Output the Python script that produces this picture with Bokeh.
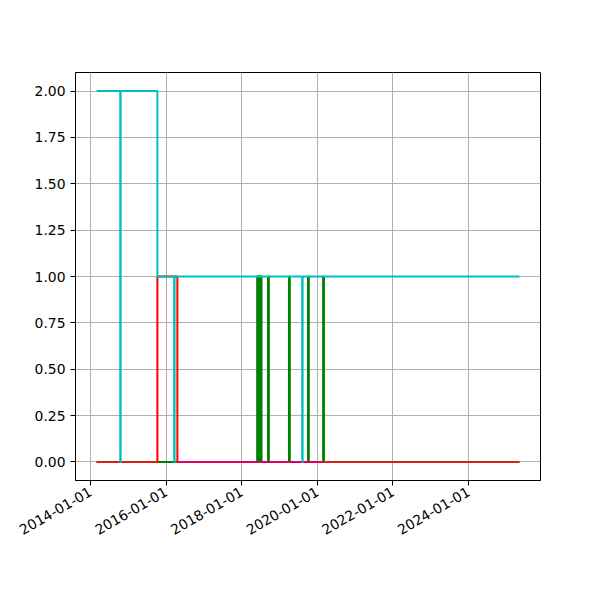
from math import pi
import pandas as pd
from bokeh.plotting import figure
from bokeh.models import Range1d, FixedTicker, DatetimeTickFormatter, NumeralTickFormatter
from bokeh.embed import file_html
from bokeh.resources import INLINE

# ---- data ----
start_date = "2014-03-01"
end_date = "2025-05-06"

green_dates = [start_date,
               "2018-05-30", "2018-06-03", "2018-06-05", "2018-06-09", "2018-06-11",
               "2018-06-15", "2018-06-17", "2018-06-21", "2018-06-23", "2018-06-27",
               "2018-06-29", "2018-07-03", "2018-07-05", "2018-07-11",
               "2018-09-12", "2018-09-20",
               "2019-04-02", "2019-04-10", "2019-10-03", "2019-10-11",
               "2020-02-26", "2020-03-05", end_date]
green_vals = [0,
              1, 0, 1, 0, 1,
              0, 1, 0, 1, 0,
              1, 0, 1, 0,
              1, 0,
              1, 0, 1, 0,
              1, 0, 0]

red_dates = [start_date, "2015-10-09", "2016-04-19", end_date]
red_vals = [0, 1, 0, 0]

brown_a_dates = [start_date, "2015-10-09"]
brown_a_vals = [0, 0]
brown_b_dates = ["2020-03-01", end_date]
brown_b_vals = [0, 0]

magenta_dates = ["2016-04-19", "2020-03-01"]
magenta_vals = [0, 0]

cyan_dates = [start_date, "2014-10-15", "2014-10-19", "2015-10-09",
              "2016-03-19", "2016-03-23", "2019-08-08", "2019-08-12", end_date]
cyan_vals = [2, 0, 2, 1, 0, 1, 0, 1, 1]

tick_labels = ["2014-01-01", "2016-01-01", "2018-01-01", "2020-01-01", "2022-01-01", "2024-01-01"]
y_ticks = [0.0, 0.25, 0.5, 0.75, 1.0, 1.25, 1.5, 1.75, 2.0]


def to_dt(lst):
    return pd.to_datetime(lst)


x0 = pd.Timestamp(start_date)
x1 = pd.Timestamp(end_date)
pad = (x1 - x0) * 0.05

p = figure(width=584, height=584, output_backend="svg", toolbar_location=None,
           x_axis_type="datetime",
           x_range=Range1d(start=x0 - pad, end=x1 + pad),
           y_range=Range1d(start=-0.1, end=2.1))
p.min_border_left = 75
p.min_border_right = 44
p.min_border_top = 72
p.min_border_bottom = 104
p.background_fill_color = "white"
p.border_fill_color = "white"
p.outline_line_color = "black"
p.outline_line_width = 1
p.outline_line_alpha = 1

p.step(to_dt(green_dates), green_vals, mode="after", line_color="green", line_width=2)
p.step(to_dt(red_dates), red_vals, mode="after", line_color="red", line_width=2)
p.step(to_dt(brown_a_dates), brown_a_vals, mode="after", line_color="#a0522d", line_alpha=0.4, line_width=2)
p.step(to_dt(brown_b_dates), brown_b_vals, mode="after", line_color="#a0522d", line_alpha=0.4, line_width=2)
p.step(to_dt(magenta_dates), magenta_vals, mode="after", line_color="#bf00bf", line_alpha=0.5, line_width=2)
p.step(to_dt(cyan_dates), cyan_vals, mode="after", line_color="#00bfbf", line_width=2)

tick_ms = [pd.Timestamp(t).value / 1e6 for t in tick_labels]
p.xaxis.ticker = FixedTicker(ticks=tick_ms)
fmt = "%Y-%m-%d"
p.xaxis.formatter = DatetimeTickFormatter(years=fmt, months=fmt, days=fmt, hours=fmt,
                                          minutes=fmt, seconds=fmt, milliseconds=fmt,
                                          microseconds=fmt, minsec=fmt, hourmin=fmt)
p.xaxis.major_label_orientation = pi / 6
p.yaxis.ticker = FixedTicker(ticks=y_ticks)
p.yaxis.formatter = NumeralTickFormatter(format="0.00")

for ax in (p.xaxis, p.yaxis):
    ax.major_label_text_font = "DejaVu Sans"
    ax.major_label_text_font_size = "13.9px"
    ax.major_label_text_color = "black"
    ax.axis_line_color = "black"
    ax.axis_line_width = 1
    ax.major_tick_line_color = "black"
    ax.major_tick_line_width = 1
    ax.major_tick_out = 5
    ax.major_tick_in = 0
    ax.minor_tick_line_color = None
    ax.major_label_standoff = 5

p.xgrid.ticker = p.xaxis.ticker
p.ygrid.ticker = p.yaxis.ticker
for g in (p.xgrid, p.ygrid):
    g.grid_line_color = "#b0b0b0"
    g.grid_line_width = 1
    g.grid_line_alpha = 1

open("out.html", "w").write(file_html(p, INLINE))
